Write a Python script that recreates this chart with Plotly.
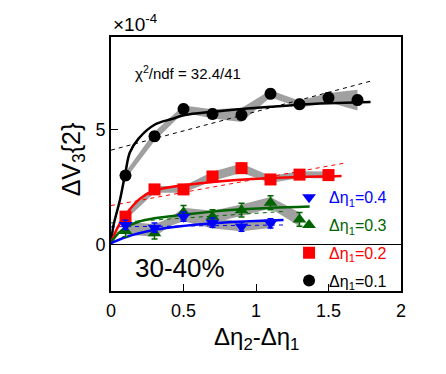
import plotly.graph_objects as go

# ---- data (units of 1e-4) ----
x_pts = [0.1, 0.3, 0.5, 0.7, 0.9, 1.1, 1.3, 1.5, 1.7]

y_01 = [3.0, 4.7, 5.88, 5.67, 5.62, 6.54, 6.09, 6.37, 6.27]
e_01 = [0.2, 0.2, 0.2, 0.2, 0.2, 0.2, 0.2, 0.2, 0.2]
s_01 = [0.15, 0.2, 0.15, 0.2, 0.3, 0.15, 0.15, 0.2, 0.45]

y_02 = [1.22, 2.4, 2.4, 2.96, 3.32, 2.83, 3.04, 3.02]
e_02 = [0.2, 0.2, 0.2, 0.2, 0.2, 0.2, 0.2, 0.2]
s_02 = [0.15, 0.15, 0.15, 0.2, 0.2, 0.15, 0.15, 0.15]

y_03 = [0.6, 0.5, 1.4, 1.22, 1.5, 1.82, 1.1]
e_03 = [0.25, 0.25, 0.3, 0.3, 0.3, 0.3, 0.3]
s_03 = [0.15, 0.15, 0.2, 0.25, 0.25, 0.25, 0.3]

y_04 = [0.86, 0.74, 1.22, 0.96, 0.79, 0.93]
e_04 = [0.2, 0.2, 0.2, 0.2, 0.2, 0.2]
s_04 = [0.15, 0.15, 0.2, 0.25, 0.2, 0.2]

# fit curves
fx_01 = [0, 0.016, 0.062, 0.1, 0.13, 0.19, 0.3, 0.42, 0.51, 0.7, 0.9, 1.1, 1.3, 1.5, 1.79]
fy_01 = [0, 0.8, 1.95, 3.15, 4.0, 4.6, 5.2, 5.45, 5.62, 5.76, 5.88, 5.98, 6.07, 6.13, 6.19]
fx_02 = [0, 0.05, 0.1, 0.2, 0.29, 0.5, 0.7, 0.89, 1.1, 1.3, 1.59]
fy_02 = [0.1, 0.8, 1.3, 2.0, 2.33, 2.58, 2.72, 2.82, 2.89, 2.94, 2.98]
fx_03 = [0, 0.05, 0.1, 0.19, 0.3, 0.5, 0.8, 1.1, 1.37]
fy_03 = [0.1, 0.5, 0.75, 1.0, 1.15, 1.3, 1.5, 1.6, 1.66]
fx_04 = [0, 0.1, 0.3, 0.5, 0.86, 1.19]
fy_04 = [0.07, 0.33, 0.65, 0.82, 1.0, 1.08]

# linear (dashed) fits: end points
lx_01, ly_01 = [0, 1.81], [4.1, 7.12]
lx_02, ly_02 = [0, 1.62], [1.7, 3.55]
lx_03, ly_03 = [0, 1.2], [0.95, 1.45]
lx_04, ly_04 = [0, 1.2], [0.78, 0.86]

labels = ["0.1", "0.2", "0.3", "0.4"]
colors = ["#000000", "#ff0000", "#006400", "#0000ff"]
symbols = ["circle", "square", "triangle-up", "triangle-down"]
sizes = [12, 12, 12, 12]

series = [
    (y_01, e_01, s_01, fx_01, fy_01, lx_01, ly_01),
    (y_02, e_02, s_02, fx_02, fy_02, lx_02, ly_02),
    (y_03, e_03, s_03, fx_03, fy_03, lx_03, ly_03),
    (y_04, e_04, s_04, fx_04, fy_04, lx_04, ly_04),
]

FONT = "Liberation Sans, Arial, sans-serif"

fig = go.Figure()

# gray systematic bands
for (y, e, s, fx, fy, lx, ly) in series:
    xs = x_pts[:len(y)]
    up = [v + d for v, d in zip(y, s)]
    lo = [v - d for v, d in zip(y, s)]
    fig.add_trace(go.Scatter(x=xs + xs[::-1], y=up + lo[::-1], fill="toself",
                             fillcolor="rgb(160,160,160)", line=dict(width=0),
                             mode="lines", showlegend=False, hoverinfo="skip"))

# dashed linear fits
for i, (y, e, s, fx, fy, lx, ly) in enumerate(series):
    fig.add_trace(go.Scatter(x=lx, y=ly, mode="lines",
                             line=dict(color=colors[i], width=1, dash="4px,4px"),
                             showlegend=False, hoverinfo="skip"))

# solid fits
for i, (y, e, s, fx, fy, lx, ly) in enumerate(series):
    fig.add_trace(go.Scatter(x=fx, y=fy, mode="lines", line_shape="spline",
                             line=dict(color=colors[i], width=2.5),
                             showlegend=False, hoverinfo="skip"))

# data points
for i, (y, e, s, fx, fy, lx, ly) in enumerate(series):
    xs = x_pts[:len(y)]
    name = ('<span style="color:%s">&#916;&#951;<sub>1</sub>=%s</span>' % (colors[i], labels[i]))
    fig.add_trace(go.Scatter(x=xs, y=y, mode="markers",
                             marker=dict(symbol=symbols[i], size=sizes[i], color=colors[i]),
                             error_y=dict(type="data", array=e, color=colors[i], thickness=1.5, width=3),
                             name=name, legendgroup="g%d" % i, legendrank=10 - i, showlegend=True))

axis_font = dict(family=FONT, size=18, color="black")

fig.update_layout(
    width=446, height=374,
    margin=dict(l=111, r=45, t=37, b=83),
    paper_bgcolor="white", plot_bgcolor="white",
    font=axis_font,
    xaxis=dict(range=[0, 2], tickvals=[0, 0.5, 1, 1.5, 2], ticktext=["0", "0.5", "1", "1.5", "2"],
               showgrid=False, zeroline=False, showline=True, mirror=True,
               linecolor="black", linewidth=2, ticks="inside", ticklen=7, tickwidth=1,
               tickcolor="black", tickfont=axis_font, ticklabelstandoff=2),
    yaxis=dict(range=[-2, 9], tickvals=[0, 5], ticktext=["0", "5"],
               showgrid=False, zeroline=True, zerolinecolor="black", zerolinewidth=1,
               showline=True, mirror=True,
               linecolor="black", linewidth=2, ticks="inside", ticklen=7, tickwidth=1,
               tickcolor="black", tickfont=axis_font),
    legend=dict(x=0.614, y=0.436, xanchor="left", yanchor="top",
                traceorder="grouped", tracegroupgap=4,
                bgcolor="rgba(0,0,0,0)", borderwidth=0,
                font=dict(family=FONT, size=16),
                itemsizing="trace"),
    showlegend=True,
)

fig.add_annotation(text="&#916;V<sub>3</sub>{2}", xref="paper", yref="paper",
                   x=-0.195, y=0.52, textangle=-90, showarrow=False,
                   font=dict(family=FONT, size=25))
fig.add_annotation(text="&#916;&#951;<sub>2</sub>-&#916;&#951;<sub>1</sub>", xref="paper", yref="paper",
                   x=0.5, y=-0.255, showarrow=False,
                   font=dict(family=FONT, size=24))
fig.add_annotation(text="&#215;10<sup>-4</sup>", xref="paper", yref="paper",
                   x=0.0, y=1.0, xanchor="left", yanchor="bottom", showarrow=False,
                   font=dict(family=FONT, size=19))
fig.add_annotation(text="&#967;<sup>2</sup>/ndf = 32.4/41", xref="paper", yref="paper",
                   x=0.075, y=0.86, xanchor="left", yanchor="middle", showarrow=False,
                   font=dict(family=FONT, size=15))
fig.add_annotation(text="30-40%", xref="paper", yref="paper",
                   x=0.075, y=0.09, xanchor="left", yanchor="middle", showarrow=False,
                   font=dict(family=FONT, size=26))

fig.write_html("out.html", config={"displayModeBar": False},
               post_script="document.body.style.margin='0px';")
